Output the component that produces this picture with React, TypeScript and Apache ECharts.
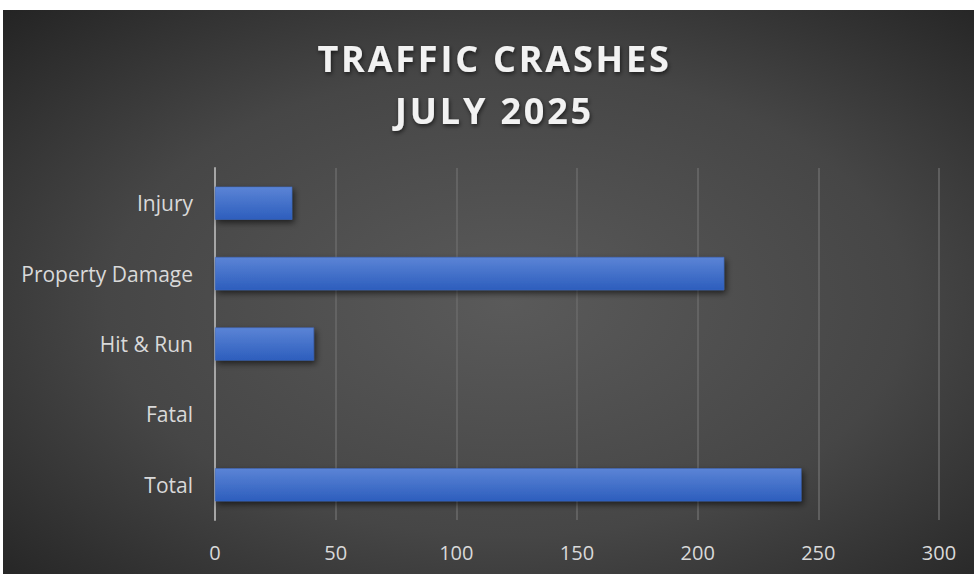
import React, { useEffect, useRef } from "react";
import * as echarts from "echarts";

const categories = ["Injury", "Property Damage", "Hit & Run", "Fatal", "Total"];
const crashCounts = [32, 211, 41, 0, 243];
const titleLines = ["TRAFFIC CRASHES", "JULY 2025"];
const axisMin = 0;
const axisMax = 300;
const axisStep = 50;

export default function App() {
  const ref = useRef<HTMLDivElement>(null);

  useEffect(() => {
    document.body.style.margin = "0";
    if (!ref.current) return;
    const chart = echarts.init(ref.current, undefined, { renderer: "svg" });
    const W = 971;
    const H = 564;
    chart.setOption({
      animation: false,
      graphic: [
        {
          type: "rect",
          z: -10,
          silent: true,
          shape: { x: 0, y: 0, width: W, height: H },
          style: {
            fill: new echarts.graphic.RadialGradient(0.52, 0.52, 0.75, [
              { offset: 0, color: "#5a5a5a" },
              { offset: 0.55, color: "#464646" },
              { offset: 1, color: "#222222" },
            ]),
          },
        },
        {
          type: "text",
          x: 491.5,
          y: 22,
          silent: true,
          style: {
            text: titleLines.join("\n"),
            textAlign: "center",
            textVerticalAlign: "top",
            fill: "#f2f2f2",
            font: 'bold 36px "Open Sans"',
            lineHeight: 52,
            textShadowColor: "rgba(0,0,0,0.6)",
            textShadowBlur: 4,
            textShadowOffsetX: 1,
            textShadowOffsetY: 2,
          },
        },
      ],
      grid: { left: 212, right: 35, top: 158, bottom: 54, containLabel: false },
      xAxis: {
        type: "value",
        min: axisMin,
        max: axisMax,
        interval: axisStep,
        axisLine: { show: false },
        axisTick: { show: false },
        splitLine: { show: true, lineStyle: { color: "#6a6a6a", width: 1.5 } },
        axisLabel: {
          color: "#d9d9d9",
          fontFamily: "Open Sans",
          fontSize: 20,
          margin: 22,
        },
      },
      yAxis: {
        type: "category",
        data: categories,
        inverse: true,
        axisLine: { show: true, lineStyle: { color: "#a6a6a6", width: 2 } },
        axisTick: { show: false },
        splitLine: { show: false },
        axisLabel: {
          color: "#d9d9d9",
          fontFamily: "Open Sans",
          fontSize: 21,
          margin: 22,
        },
      },
      series: [
        {
          type: "bar",
          data: crashCounts,
          barCategoryGap: "53%",
          itemStyle: {
            color: new echarts.graphic.LinearGradient(0, 0, 0, 1, [
              { offset: 0, color: "#5b84d6" },
              { offset: 1, color: "#2d5ebd" },
            ]),
            borderColor: "#3a66c0",
            borderWidth: 0.5,
            shadowColor: "rgba(0,0,0,0.6)",
            shadowBlur: 6,
            shadowOffsetX: 2,
            shadowOffsetY: 3,
          },
        },
      ],
    });
    return () => chart.dispose();
  }, []);

  return (
    <div className="crash-chart" style={{ position: "relative", width: 975, height: 574, background: "#ffffff", overflow: "hidden" }}>
      <style>{`.crash-chart svg text[style*="36px"] { letter-spacing: 2.8px; }`}</style>
      <div ref={ref} style={{ position: "absolute", left: 3, top: 10, width: 971, height: 564 }} />
    </div>
  );
}
